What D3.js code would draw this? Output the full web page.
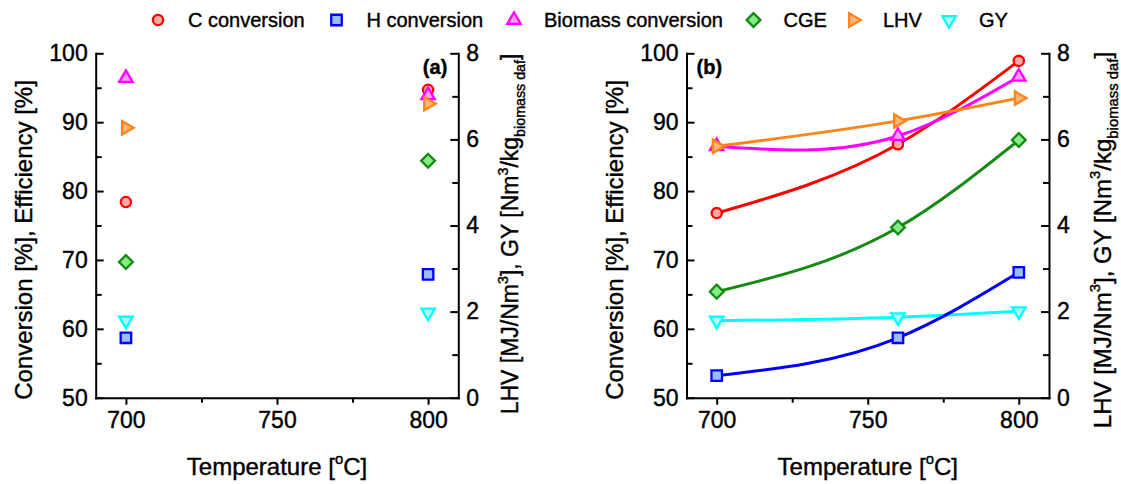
<!DOCTYPE html>
<html>
<head>
<meta charset="utf-8">
<script src="https://cdn.jsdelivr.net/npm/d3@7"></script>
<style>
  body { margin: 0; background: #fff; }
  text { font-family: "Liberation Sans", Arial, sans-serif; fill: #000; stroke: #000; stroke-width: 0.4px; }
</style>
</head>
<body>
<div class="chart"></div>
<script>
// panel (a): 700 and 800 C
var temps_a = [700, 800];
var c_conv_a = [78.4, 94.7];
var h_conv_a = [58.7, 67.9];
var bio_conv_a = [96.4, 93.9];
var cge_a = [69.7, 84.4];
var lhv_a = [6.27, 6.83];
var gy_a = [1.79, 1.98];

// panel (b): 700, 760 and 800 C
var temps_b = [700, 760, 800];
var c_conv_b = [76.8, 86.8, 98.9];
var h_conv_b = [53.2, 58.7, 68.2];
var bio_conv_b = [86.5, 88.0, 96.6];
var cge_b = [65.4, 74.7, 87.4];
var lhv_b = [5.84, 6.43, 6.96];
var gy_b = [1.79, 1.87, 2.01];

var legend_names = ["C conversion", "H conversion", "Biomass conversion", "CGE", "LHV", "GY"];
var x_ticks = [700, 750, 800];
var x_minor = [725, 775];
var left_ticks = [50, 60, 70, 80, 90, 100];
var left_minor = [55, 65, 75, 85, 95];
var right_ticks = [0, 2, 4, 6, 8];
var right_minor = [1, 3, 5, 7];

// styles per series (same order as legend_names)
var colors = ["#ff0000", "#0000ff", "#ff00ff", "#138a13", "#ff8419", "#00ffff"];
var fills = ["#ffaaaa", "#9cbcff", "#ff9cff", "#86ea86", "#ffb47a", "#acffff"];
var onRight = [false, false, false, false, true, true];
var drawOrder = [5, 0, 2, 3, 1, 4];

var W = 1121, H = 484;
var yTop = 53.3, yBottom = 397.7;
var fontFam = '"Liberation Sans", Arial, sans-serif';

var svg = d3.select(".chart").append("svg")
  .attr("width", W).attr("height", H)
  .style("display", "block");
svg.append("rect").attr("width", W).attr("height", H).attr("fill", "#fff");

// marker shapes
function marker(i) {
  if (i == 0) return { d: d3.symbol().type(d3.symbolCircle).size(82)(), rot: 0 };
  if (i == 1) return { d: d3.symbol().type(d3.symbolSquare).size(110)(), rot: 0 };
  if (i == 2) return { d: d3.symbol().type(d3.symbolTriangle).size(78)(), rot: 0 };
  if (i == 3) return { d: d3.symbol().type(d3.symbolSquare).size(95)(), rot: 45 };
  if (i == 4) return { d: d3.symbol().type(d3.symbolTriangle).size(78)(), rot: 90 };
  return { d: d3.symbol().type(d3.symbolTriangle).size(78)(), rot: 180 };
}

function drawMarker(g, i, x, y) {
  var m = marker(i);
  g.append("path")
    .attr("d", m.d)
    .attr("transform", `translate(${x},${y}) rotate(${m.rot})`)
    .attr("fill", fills[i])
    .attr("stroke", colors[i])
    .attr("stroke-width", 2.3)
    .attr("stroke-linejoin", "miter");
}

// natural cubic spline in x (Origin "spline" connection)
function SplineX(context) { this._context = context; }
SplineX.prototype = {
  areaStart: function () {}, areaEnd: function () {},
  lineStart: function () { this._x = []; this._y = []; },
  point: function (x, y) { this._x.push(+x); this._y.push(+y); },
  lineEnd: function () {
    var x = this._x, y = this._y, n = x.length, c = this._context, i;
    if (!n) return;
    c.moveTo(x[0], y[0]);
    if (n == 2) { c.lineTo(x[1], y[1]); return; }
    var h = [], m = new Array(n).fill(0), a = [], b = [], cc = [], d = [];
    for (i = 0; i < n - 1; i++) h[i] = x[i + 1] - x[i];
    for (i = 1; i < n - 1; i++) {
      a[i] = h[i - 1]; b[i] = 2 * (h[i - 1] + h[i]); cc[i] = h[i];
      d[i] = 6 * ((y[i + 1] - y[i]) / h[i] - (y[i] - y[i - 1]) / h[i - 1]);
    }
    for (i = 2; i < n - 1; i++) {
      var w = a[i] / b[i - 1];
      b[i] -= w * cc[i - 1]; d[i] -= w * d[i - 1];
    }
    for (i = n - 2; i >= 1; i--) m[i] = (d[i] - cc[i] * m[i + 1]) / b[i];
    for (i = 0; i < n - 1; i++) {
      var s = (y[i + 1] - y[i]) / h[i];
      var d0 = s - h[i] * (2 * m[i] + m[i + 1]) / 6;
      var d1 = s + h[i] * (m[i] + 2 * m[i + 1]) / 6;
      c.bezierCurveTo(x[i] + h[i] / 3, y[i] + d0 * h[i] / 3,
                      x[i + 1] - h[i] / 3, y[i + 1] - d1 * h[i] / 3,
                      x[i + 1], y[i + 1]);
    }
  }
};
function splineX(context) { return new SplineX(context); }

// text with super/subscripts
function richText(sel, parts, size) {
  parts.forEach(function (p) {
    var t = sel.append("tspan").text(p[0]);
    if (p[1] == "sup") t.attr("font-size", size * 0.62).attr("dy", -size * 0.45);
    else if (p[1] == "sub") t.attr("font-size", size * 0.62).attr("dy", size * 0.3);
    if (p[2]) t.attr("dy", p[2]);
  });
}

function styleAxis(g) {
  g.selectAll("path, line").attr("stroke", "#000").attr("stroke-width", 2);
  g.select(".domain").attr("stroke-linecap", "square");
  g.selectAll("text").attr("font-size", 23).attr("font-family", fontFam)
    .attr("fill", "#000").attr("stroke", "#000").attr("stroke-width", 0.4);
}

function drawPanel(left, right, temps, series, label, spline, rightTitleOff, rightTitleY, rightTitleSize) {
  var xScale = d3.scaleLinear().domain([690, 810]).range([left, right]);
  var yLeft = d3.scaleLinear().domain([50, 100]).range([yBottom, yTop]);
  var yRight = d3.scaleLinear().domain([0, 8]).range([yBottom, yTop]);

  // axes
  var gx = svg.append("g").attr("transform", `translate(0,${yBottom})`);
  gx.call(d3.axisBottom(xScale).tickValues(x_ticks).tickSize(7).tickPadding(7).tickSizeOuter(0));
  svg.append("g").attr("transform", `translate(0,${yBottom})`)
    .call(d3.axisBottom(xScale).tickValues(x_minor).tickSize(5).tickFormat("").tickSizeOuter(0))
    .call(styleAxis).select(".domain").remove();
  styleAxis(gx);

  var gl = svg.append("g").attr("transform", `translate(${left},0)`);
  gl.call(d3.axisLeft(yLeft).tickValues(left_ticks).tickSize(-8).tickPadding(8).tickSizeOuter(0));
  svg.append("g").attr("transform", `translate(${left},0)`)
    .call(d3.axisLeft(yLeft).tickValues(left_minor).tickSize(-6).tickFormat("").tickSizeOuter(0))
    .call(styleAxis).select(".domain").remove();
  styleAxis(gl);

  var gr = svg.append("g").attr("transform", `translate(${right},0)`);
  gr.call(d3.axisRight(yRight).tickValues(right_ticks).tickSize(-8).tickPadding(8).tickSizeOuter(0));
  svg.append("g").attr("transform", `translate(${right},0)`)
    .call(d3.axisRight(yRight).tickValues(right_minor).tickSize(-6).tickFormat("").tickSizeOuter(0))
    .call(styleAxis).select(".domain").remove();
  styleAxis(gr);

  // lines then markers
  var grp = svg.append("g");
  drawOrder.forEach(function (i) {
    var ys = onRight[i] ? yRight : yLeft;
    var pts = temps.map(function (t, k) { return [t, series[i][k]]; });
    if (spline) {
      grp.append("path")
        .datum(pts)
        .attr("fill", "none")
        .attr("stroke", colors[i])
        .attr("stroke-width", 3)
        .attr("stroke-linejoin", "round")
        .attr("d", d3.line().x(d => xScale(d[0])).y(d => ys(d[1])).curve(splineX));
    }
  });
  drawOrder.forEach(function (i) {
    var ys = onRight[i] ? yRight : yLeft;
    temps.forEach(function (t, k) { drawMarker(grp, i, xScale(t), ys(series[i][k])); });
  });

  // panel label
  var lab = svg.append("text")
    .attr("y", 74)
    .attr("font-size", 20)
    .attr("font-weight", "bold")
    .text(label);
  if (label == "(a)") lab.attr("x", right - 11).attr("text-anchor", "end");
  else lab.attr("x", left + 10).attr("text-anchor", "start");

  // axis titles
  var cx = (left + right) / 2;
  richText(svg.append("text")
    .attr("x", cx).attr("y", 475)
    .attr("text-anchor", "middle")
    .attr("font-size", 24), [["Temperature ["], ["o", "sup"], ["C]", null, 24 * 0.45]], 24);

  svg.append("text")
    .attr("transform", `translate(${left - 64},240) rotate(-90)`)
    .attr("text-anchor", "middle")
    .attr("font-size", 24)
    .text("Conversion [%], Efficiency [%]");

  var s = rightTitleSize;
  richText(svg.append("text")
    .attr("transform", `translate(${right + rightTitleOff},${rightTitleY}) rotate(-90)`)
    .attr("text-anchor", "middle")
    .attr("font-size", s),
    [["LHV [MJ/Nm"], ["3", "sup"], ["], GY [Nm", null, s * 0.45], ["3", "sup"],
     ["/kg", null, s * 0.45], ["biomass daf", "sub"], ["]", null, -s * 0.3]], s);
}

var series_a = [c_conv_a, h_conv_a, bio_conv_a, cge_a, lhv_a, gy_a];
var series_b = [c_conv_b, h_conv_b, bio_conv_b, cge_b, lhv_b, gy_b];
drawPanel(95.7, 458.3, temps_a, series_a, "(a)", false, 60, 234, 23);
drawPanel(686.5, 1049, temps_b, series_b, "(b)", true, 62, 240, 24);

// legend
var legend_x = [158, 336.5, 514, 753.5, 853, 949];
var leg = svg.append("g");
legend_names.forEach(function (name, i) {
  drawMarker(leg, i, legend_x[i], 20);
  leg.append("text")
    .attr("x", legend_x[i] + 30)
    .attr("y", 27)
    .attr("font-size", 20)
    .text(name);
});
</script>
</body>
</html>
